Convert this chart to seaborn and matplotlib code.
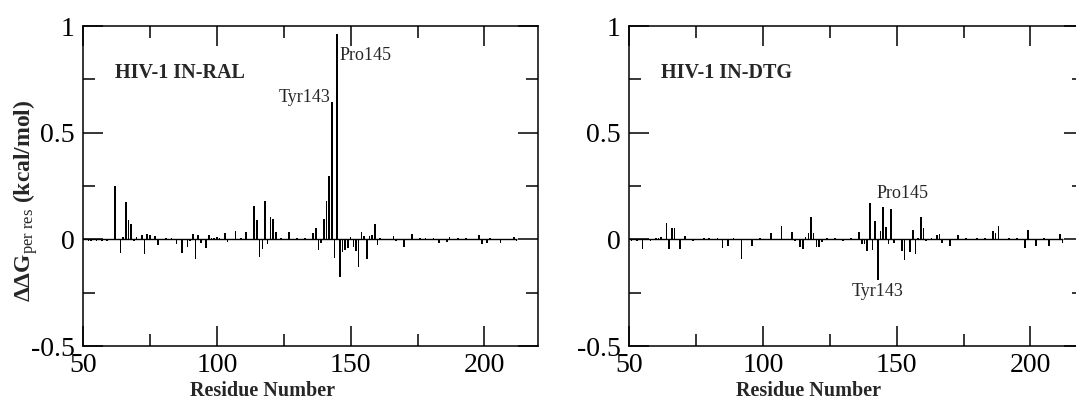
import numpy as np
import pandas as pd
import matplotlib
matplotlib.use("Agg")
import matplotlib.pyplot as plt
import seaborn as sns
from matplotlib.ticker import MultipleLocator

# ---------------- data ----------------
res_ral = [52, 53, 55, 57, 59, 60, 62, 64, 65, 66, 67, 68, 69, 70, 72, 73, 74, 75, 77, 78,
           81, 83, 85, 87, 89, 90, 91, 92, 93, 94, 96, 97, 98, 99, 100, 101, 103, 104, 107, 109,
           111, 114, 115, 116, 117, 118, 119, 120, 121, 122, 124, 127, 130, 133, 136, 137, 138, 139, 140, 141,
           142, 143, 144, 145, 146, 147, 148, 149, 150, 151, 152, 153, 154, 155, 156, 157, 158, 159, 160, 161,
           163, 166, 167, 170, 173, 176, 178, 181, 183, 186, 187, 190, 193, 198, 199, 201, 202, 206, 211, 212]
ddg_ral = [-0.008, -0.010, -0.006, -0.008, -0.006, -0.005, 0.250, -0.065, 0.013, 0.177, 0.090, 0.072, -0.010, 0.010, 0.019, -0.070, 0.025, 0.019, 0.016, -0.027,
           0.006, 0.005, -0.023, -0.066, -0.038, -0.010, 0.025, -0.090, 0.022, -0.019, -0.039, 0.022, 0.005, 0.006, 0.010, 0.004, 0.031, -0.014, 0.038, 0.004,
           0.033, 0.158, 0.089, -0.085, -0.045, 0.178, -0.023, 0.103, 0.095, 0.036, 0.004, 0.036, 0.005, 0.004, 0.028, 0.055, -0.050, -0.016, 0.095, 0.180,
           0.297, 0.645, -0.089, 0.964, -0.178, -0.060, -0.050, -0.042, 0.010, -0.037, -0.053, -0.131, 0.033, 0.016, -0.092, 0.016, 0.019, 0.072, -0.027, 0.004,
           0.003, 0.016, -0.006, -0.034, 0.025, 0.004, 0.005, 0.004, -0.016, -0.012, 0.010, 0.004, 0.004, 0.020, -0.020, -0.019, 0.008, -0.016, 0.012, -0.010]

res_dtg = [51, 53, 55, 58, 60, 61, 62, 64, 65, 66, 67, 69, 71, 74, 78, 80, 83, 85, 87, 89,
           92, 96, 99, 103, 107, 111, 112, 114, 115, 116, 117, 118, 119, 120, 121, 122, 124, 127, 130, 133,
           136, 137, 138, 139, 140, 141, 142, 143, 144, 145, 146, 147, 148, 149, 152, 153, 155, 156, 157, 158,
           159, 160, 161, 163, 165, 166, 167, 170, 173, 176, 180, 183, 186, 187, 188, 189, 192, 195, 198, 199,
           202, 205, 207, 211, 212]
ddg_dtg = [-0.006, -0.008, -0.045, -0.010, 0.005, 0.008, 0.010, 0.077, -0.047, 0.055, 0.052, -0.047, 0.016, -0.008, 0.006, 0.004, 0.004, -0.042, -0.030, 0.006,
           -0.092, -0.030, 0.004, 0.031, 0.064, 0.036, -0.008, -0.034, -0.047, 0.013, 0.031, 0.106, 0.031, -0.034, -0.034, -0.012, 0.004, 0.008, -0.010, 0.004,
           0.033, -0.023, -0.023, -0.055, 0.169, -0.050, 0.084, -0.190, 0.039, 0.153, 0.056, -0.023, 0.141, -0.016, -0.055, -0.097, -0.061, 0.044, -0.069, 0.005,
           0.106, 0.055, -0.008, 0.004, 0.020, 0.023, -0.016, -0.031, 0.019, 0.004, 0.004, 0.006, 0.041, 0.031, 0.064, -0.004, 0.004, 0.004, -0.039, 0.042,
           -0.031, 0.004, -0.031, 0.027, -0.016]

residue_range = [50, 212]
panel_titles = ["HIV-1 IN-RAL", "HIV-1 IN-DTG"]
x_ticks = [50, 100, 150, 200]
y_ticks = [-0.5, 0, 0.5, 1]
y_tick_labels = ["-0.5", "0", "0.5", "1"]
x_label = "Residue Number"
y_label = r"$\mathbf{\Delta\Delta G}_{\mathrm{per\ res}}$ (kcal/mol)"

# ---------------- style ----------------
sns.set_theme(style="ticks")
plt.rcParams["font.family"] = ["Liberation Serif", "DejaVu Serif"]
plt.rcParams["mathtext.fontset"] = "custom"
plt.rcParams["mathtext.rm"] = "Liberation Serif"
plt.rcParams["mathtext.bf"] = "Liberation Serif:bold"
plt.rcParams["mathtext.it"] = "Liberation Serif:italic"

W, H = 1076, 408
fig = plt.figure(figsize=(W / 100, H / 100), dpi=100)
ax_l = fig.add_axes([83 / W, (H - 346) / H, 455 / W, 320 / H])
ax_r = fig.add_axes([629 / W, (H - 346) / H, 455 / W, 320 / H])

datasets = [(res_ral, ddg_ral), (res_dtg, ddg_dtg)]
for ax, (res, ddg), title in zip([ax_l, ax_r], datasets, panel_titles):
    df = pd.DataFrame({"res": res, "ddg": ddg})
    sns.barplot(data=df, x="res", y="ddg", native_scale=True, width=0.6,
                color="black", linewidth=0,
                errorbar=None, ax=ax, saturation=1)
    ax.hlines(0, residue_range[0], residue_range[1], color="black", lw=1.0, zorder=3)
    ax.set_xlim(50, 220)
    ax.set_ylim(-0.5, 1)
    ax.set_xticks(x_ticks)
    ax.set_xticklabels([str(t) for t in x_ticks])
    ax.set_yticks(y_ticks)
    ax.set_yticklabels(y_tick_labels)
    ax.xaxis.set_minor_locator(MultipleLocator(25))
    ax.yaxis.set_minor_locator(MultipleLocator(0.25))
    ax.tick_params(which="both", direction="in", top=True, right=True,
                   width=1.1, colors="black", labelsize=20)
    ax.tick_params(which="major", length=14.4)
    ax.tick_params(which="minor", length=8.6)
    ax.tick_params(axis="x", pad=5)
    ax.tick_params(axis="y", pad=6)
    for s in ax.spines.values():
        s.set_linewidth(1.1)
        s.set_color("black")
    ax.set_xlabel(x_label, fontsize=14.5, fontweight="bold")
    ax.xaxis.set_label_coords(0.395, -0.11)
    ax.set_ylabel("")
    ax.text(62, 0.78, title, fontsize=14.5, fontweight="bold", va="center", ha="left")

ax_l.set_ylabel(y_label, fontsize=17, fontweight="bold")
ax_l.yaxis.set_label_coords(-0.094, 0.455)

ax_l.text(145.8, 0.864, "Pro145", fontsize=13, ha="left", va="center")
ax_l.text(142.6, 0.667, "Tyr143", fontsize=13, ha="right", va="center")
ax_r.text(142.5, 0.216, "Pro145", fontsize=13, ha="left", va="center")
ax_r.text(143.0, -0.245, "Tyr143", fontsize=13, ha="center", va="center")

fig.savefig("out.png", dpi=100)
